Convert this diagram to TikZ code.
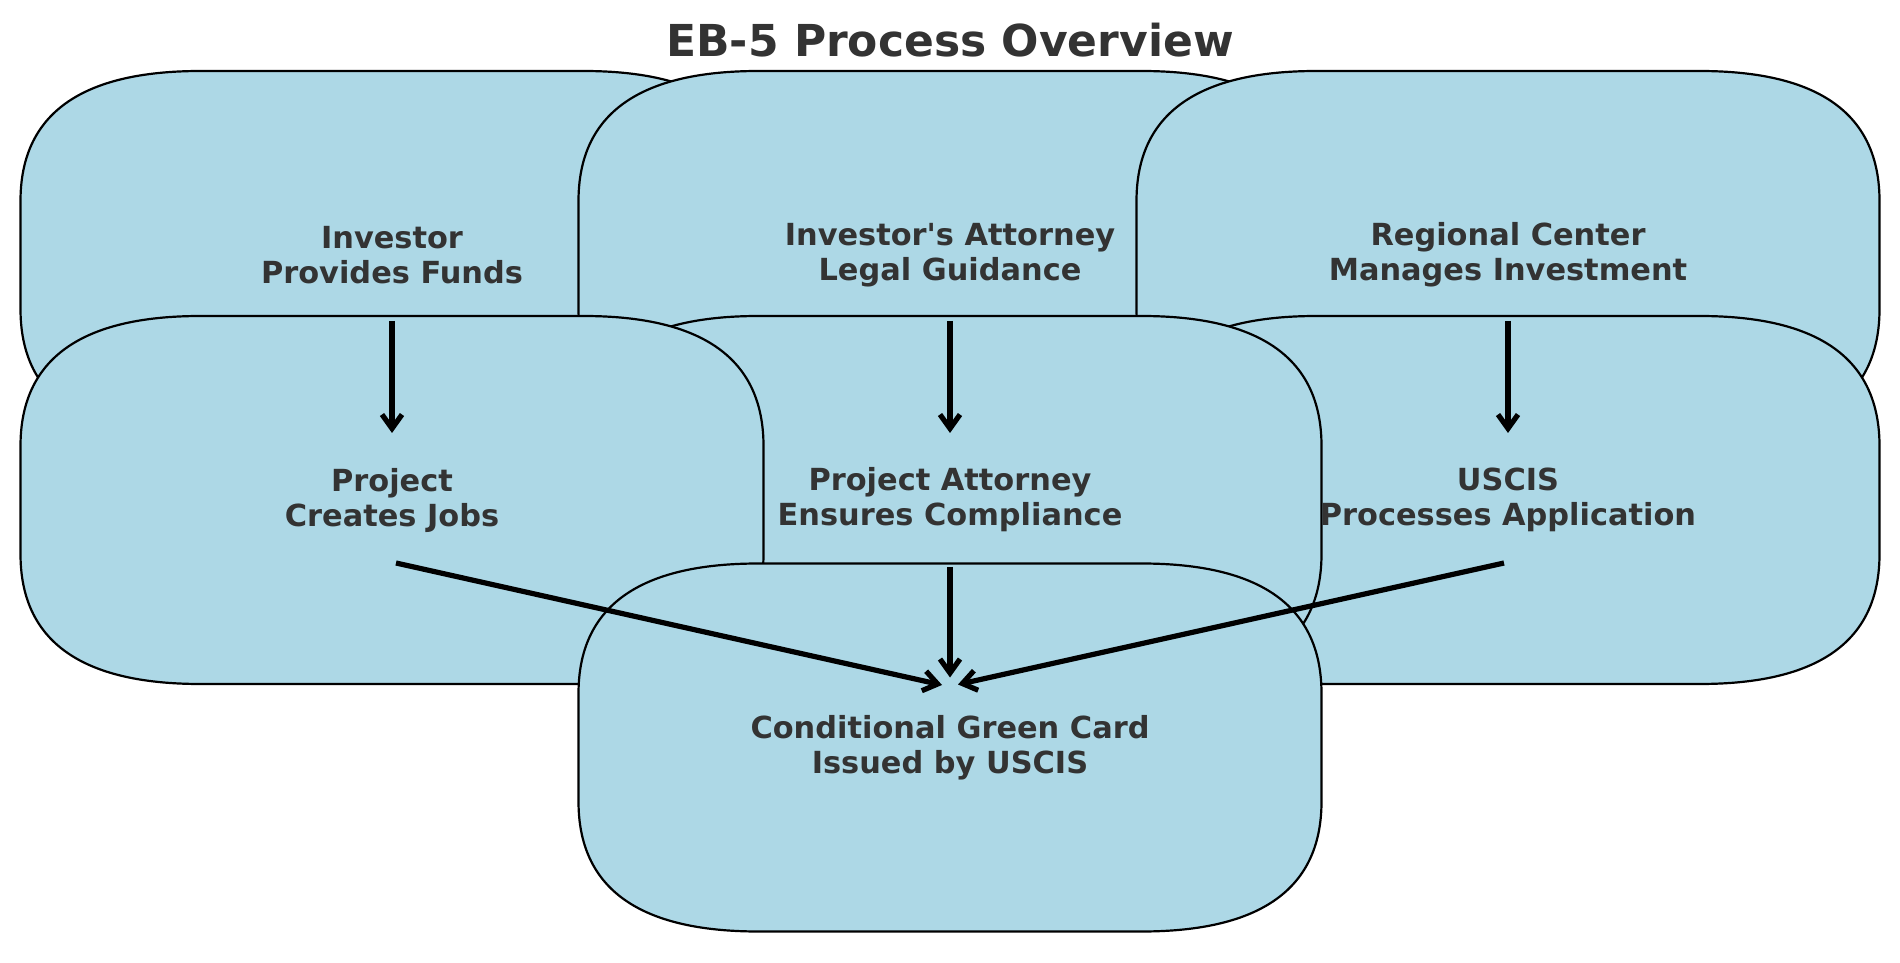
\documentclass[tikz,border=0pt]{standalone}
\usepackage{fontspec}
\setmainfont{DejaVu Sans}
\usetikzlibrary{arrows.meta,calc}
\definecolor{boxfill}{HTML}{ADD8E6}
\definecolor{txtgray}{HTML}{333333}
\tikzset{
  boxline/.style={fill=boxfill,draw=black,line width=2.2pt,line join=round},
  lbl/.style={font=\bfseries\fontsize{30.4}{35}\selectfont,text=txtgray,align=center,inner sep=0pt},
  ttl/.style={font=\bfseries\fontsize{44}{52}\selectfont,text=txtgray,inner sep=0pt},
  arr/.style={draw=black,line width=5.2pt,-{Straight Barb[length=14pt,width=20pt]}}
}
% rounded box: half width 371.5, half height 184, corner radii 180 (x) and 130 (y),
% corners are quadratic curves written as cubic ones
\newcommand{\ebshape}[2]{%
  \filldraw[boxline,shift={(#1,#2)}] (-371.5,-54) -- (-371.5,54)
    .. controls (-371.5,140.67) and (-311.5,184) .. (-191.5,184) -- (191.5,184)
    .. controls (311.5,184) and (371.5,140.67) .. (371.5,54) -- (371.5,-54)
    .. controls (371.5,-140.67) and (311.5,-184) .. (191.5,-184) -- (-191.5,-184)
    .. controls (-311.5,-184) and (-371.5,-140.67) .. (-371.5,-54) -- cycle;
}
\begin{document}
\begin{tikzpicture}[x=1pt,y=1pt]
\fill[white] (0,0) rectangle (1900,962);
\path[use as bounding box] (0,0) rectangle (1900,962);
% boxes (drawing order as in reference)
\ebshape{392}{707}
\ebshape{950}{707}
\ebshape{1508}{707}
\ebshape{1508}{462}
\ebshape{950}{462}
\ebshape{392}{462}
\ebshape{950}{214.5}
% title
\node[ttl,anchor=base] (title) at (950,905) {EB-5 Process Overview};
% labels
\node[lbl] (inv) at (392,707) {Investor\\Provides Funds};
\node[lbl] (invatt) at (950,707) {Investor\textquotesingle s Attorney\\Legal Guidance};
\node[lbl] (rc) at (1508,707) {Regional Center\\Manages Investment};
\node[lbl] (proj) at (392,462) {Project\\Creates Jobs};
\node[lbl] (projatt) at (950,462) {Project Attorney\\Ensures Compliance};
\node[lbl] (uscis) at (1508,462) {USCIS\\Processes Application};
\node[lbl] (green) at (950,214.5) {Conditional Green Card\\Issued by USCIS};
% connectors
\draw[arr] ($(inv.center)+(0,-66)$) -- ($(proj.center)+(0,67)$);
\draw[arr] ($(invatt.center)+(0,-66)$) -- ($(projatt.center)+(0,67)$);
\draw[arr] ($(rc.center)+(0,-66)$) -- ($(uscis.center)+(0,67)$);
\draw[arr] ($(projatt.center)+(0,-67)$) -- ($(green.center)+(0,70)$);
\draw[arr] ($(proj.center)+(4,-63)$) -- ($(green.center)+(-8,62.5)$);
\draw[arr] ($(uscis.center)+(-4,-63)$) -- ($(green.center)+(8,63)$);
\end{tikzpicture}
\end{document}
